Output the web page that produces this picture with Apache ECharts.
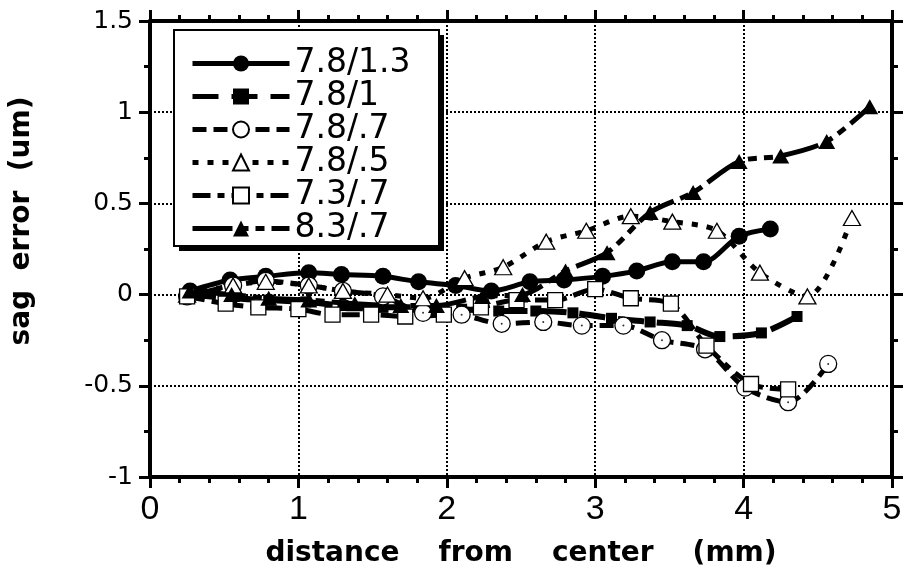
<!DOCTYPE html>
<html>
<head>
<meta charset="utf-8">
<script src="https://cdn.jsdelivr.net/npm/echarts@6.0.0/dist/echarts.min.js"></script>
<style>
  html, body { margin: 0; padding: 0; background: #fff; }
  #chart { width: 912px; height: 583px; }
</style>
</head>
<body>
<div id="chart"></div>
<script>
// values (distance in mm, sag error in um)
const x_78_13 = [0.27, 0.54, 0.78, 1.07, 1.29, 1.57, 1.81, 2.06, 2.30, 2.56, 2.79, 3.05, 3.28, 3.52, 3.73, 3.97, 4.18];
const y_78_13 = [0.02, 0.08, 0.10, 0.12, 0.11, 0.10, 0.07, 0.05, 0.02, 0.07, 0.08, 0.10, 0.13, 0.18, 0.18, 0.32, 0.36];

const x_78_1 = [0.27, 0.55, 0.80, 1.05, 1.30, 1.57, 1.83, 2.10, 2.35, 2.60, 2.85, 3.11, 3.37, 3.62, 3.84, 4.12, 4.36];
const y_78_1 = [0.00, -0.02, -0.03, -0.04, -0.06, -0.07, -0.07, -0.08, -0.09, -0.09, -0.10, -0.13, -0.15, -0.17, -0.23, -0.21, -0.12];

const x_78_07 = [0.25, 0.56, 0.78, 1.07, 1.30, 1.57, 1.84, 2.10, 2.37, 2.65, 2.91, 3.19, 3.45, 3.74, 4.01, 4.30, 4.57];
const y_78_07 = [-0.01, 0.05, 0.075, 0.05, 0.02, -0.01, -0.10, -0.11, -0.16, -0.15, -0.17, -0.17, -0.25, -0.30, -0.51, -0.59, -0.38];

const x_78_05 = [0.25, 0.56, 0.78, 1.07, 1.30, 1.60, 1.84, 2.12, 2.38, 2.67, 2.94, 3.24, 3.52, 3.82, 4.11, 4.43, 4.73];
const y_78_05 = [0.00, 0.05, 0.07, 0.05, 0.02, 0.00, -0.02, 0.09, 0.15, 0.29, 0.35, 0.43, 0.40, 0.35, 0.12, -0.01, 0.42];

const x_73_07 = [0.25, 0.51, 0.73, 1.00, 1.23, 1.49, 1.72, 1.98, 2.23, 2.47, 2.73, 3.00, 3.24, 3.51, 3.75, 4.05, 4.30];
const y_73_07 = [-0.01, -0.05, -0.07, -0.08, -0.11, -0.11, -0.12, -0.11, -0.07, -0.03, -0.03, 0.03, -0.02, -0.05, -0.28, -0.49, -0.52];

const x_83_07 = [0.27, 0.55, 0.80, 1.07, 1.38, 1.69, 1.93, 2.24, 2.51, 2.80, 3.08, 3.37, 3.66, 3.97, 4.25, 4.56, 4.85];
const y_83_07 = [0.02, 0.00, -0.02, -0.03, -0.05, -0.06, -0.06, -0.01, 0.00, 0.13, 0.23, 0.45, 0.56, 0.73, 0.76, 0.84, 1.03];

const seriesNames = ['7.8/1.3', '7.8/1', '7.8/.7', '7.8/.5', '7.3/.7', '8.3/.7'];

const xTicks = [0, 1, 2, 3, 4, 5];
const yTicks = [-1, -0.5, 0, 0.5, 1, 1.5];

const pairs = (xs, ys) => xs.map((x, i) => [x, ys[i]]);

const FONT = "'DejaVu Sans', 'Liberation Sans', sans-serif";
const NARROW = "'Liberation Sans Narrow', 'Liberation Sans', sans-serif";
const BLACK = '#000';

function lineSeries(name, data, dash, width, symbol, size, filled) {
  return {
    name: name,
    type: 'line',
    data: data,
    smooth: 0.3,
    symbol: symbol,
    symbolSize: size,
    showSymbol: true,
    lineStyle: { color: BLACK, width: width, type: dash, cap: 'butt' },
    itemStyle: filled
      ? { color: BLACK, borderColor: BLACK, borderWidth: 0 }
      : { color: '#fff', borderColor: BLACK, borderWidth: 1.3 },
    emphasis: { disabled: true },
    animation: false
  };
}

function axisCommon(splitNumber) {
  return {
    type: 'value',
    axisLine: { show: true, onZero: false, lineStyle: { color: BLACK, width: 4 } },
    axisTick: { show: true, inside: false, length: 11, lineStyle: { color: BLACK, width: 3 } },
    minorTick: { show: true, splitNumber: splitNumber, length: 6, lineStyle: { color: BLACK, width: 3 } }
  };
}

const xMin = xTicks[0], xMax = xTicks[xTicks.length - 1];
const yMin = yTicks[0], yMax = yTicks[yTicks.length - 1];

// legend frame: white box with a solid drop shadow, drawn behind the legend items
const legendBox = { left: 173, top: 29, width: 265, height: 216 };

const chart = echarts.init(document.getElementById('chart'));

chart.setOption({
  backgroundColor: '#fff',
  animation: false,
  grid: { left: 150, right: 20, top: 21, bottom: 106 },
  graphic: [
    {
      type: 'rect',
      left: legendBox.left + 6,
      top: legendBox.top + 6,
      shape: { width: legendBox.width, height: legendBox.height },
      style: { fill: BLACK },
      z: 3,
      silent: true
    },
    {
      type: 'rect',
      left: legendBox.left,
      top: legendBox.top,
      shape: { width: legendBox.width, height: legendBox.height },
      style: { fill: '#fff', stroke: BLACK, lineWidth: 2 },
      z: 4,
      silent: true
    }
  ],
  legend: {
    orient: 'vertical',
    left: legendBox.left,
    top: legendBox.top,
    padding: [18, 10, 18, 17],
    itemWidth: 97,
    itemHeight: 20,
    itemGap: 0,
    itemTextGap: 8,
    z: 5,
    selectedMode: false,
    lineStyle: { width: 5 },
    textStyle: { fontSize: 33, lineHeight: 30, color: BLACK, fontFamily: FONT },
    data: seriesNames
  },
  xAxis: [
    Object.assign(axisCommon(5), {
      position: 'bottom',
      min: xMin, max: xMax, interval: 1,
      axisLabel: { color: BLACK, fontSize: 34, margin: 16, fontFamily: NARROW },
      splitLine: { show: true, lineStyle: { color: BLACK, width: 2, type: [2, 2] } },
      name: 'distance    from    center    (mm)',
      nameLocation: 'middle',
      nameGap: 63,
      nameTextStyle: { fontSize: 28, fontWeight: 'bold', color: BLACK, fontFamily: FONT }
    }),
    Object.assign(axisCommon(5), {
      position: 'top',
      min: xMin, max: xMax, interval: 1,
      axisLabel: { show: false },
      splitLine: { show: false }
    })
  ],
  yAxis: [
    Object.assign(axisCommon(2), {
      position: 'left',
      min: yMin, max: yMax, interval: 0.5,
      axisLabel: { color: BLACK, fontSize: 25, margin: 17, fontFamily: FONT },
      splitLine: { show: true, lineStyle: { color: BLACK, width: 2, type: [2, 2] } },
      name: 'sag  error  (um)',
      nameLocation: 'middle',
      nameGap: 114,
      nameTextStyle: { fontSize: 28, fontWeight: 'bold', color: BLACK, fontFamily: FONT, padding: [0, 0, 0, 56] }
    }),
    Object.assign(axisCommon(2), {
      position: 'right',
      min: yMin, max: yMax, interval: 0.5,
      axisLabel: { show: false },
      splitLine: { show: false }
    })
  ],
  series: [
    lineSeries(seriesNames[0], pairs(x_78_13, y_78_13), 'solid', 5, 'circle', 17, true),
    lineSeries(seriesNames[1], pairs(x_78_1, y_78_1), [26, 13], 6, 'rect', 11, true),
    lineSeries(seriesNames[2], pairs(x_78_07, y_78_07), [14, 7], 5, 'circle', 17, false),
    // centre dots of the open circles
    {
      type: 'scatter',
      data: pairs(x_78_07, y_78_07),
      symbol: 'circle',
      symbolSize: 2,
      itemStyle: { color: BLACK },
      silent: true,
      z: 3
    },
    lineSeries(seriesNames[3], pairs(x_78_05, y_78_05), [6, 9], 5, 'triangle', [17, 15], false),
    lineSeries(seriesNames[4], pairs(x_73_07, y_73_07), [18, 7, 7, 7], 5, 'rect', 15, false),
    lineSeries(seriesNames[5], pairs(x_83_07, y_83_07), [40, 7, 9, 7, 9, 7], 5, 'triangle', [17, 15], true)
  ]
});

window.addEventListener('resize', () => chart.resize());
</script>
</body>
</html>
